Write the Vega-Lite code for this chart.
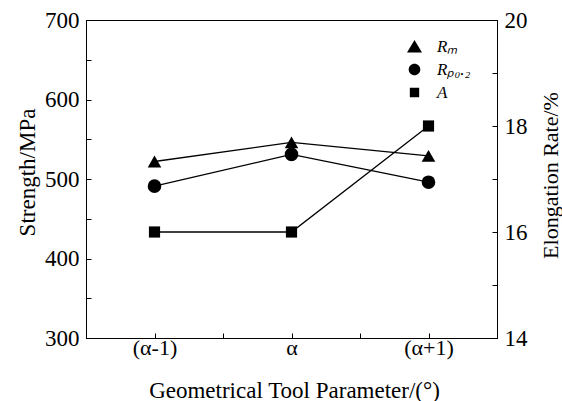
{
  "$schema": "https://vega.github.io/schema/vega-lite/v6.json",
  "width": 411,
  "height": 318,
  "autosize": "none",
  "padding": {"left": 86, "top": 20, "right": 65, "bottom": 63},
  "background": "white",
  "config": {
    "font": "Liberation Serif",
    "view": {"stroke": "black", "strokeWidth": 1},
    "axis": {
      "domainColor": "black",
      "tickColor": "black",
      "labelColor": "black",
      "titleColor": "black",
      "grid": false,
      "labelFont": "Liberation Serif",
      "titleFont": "Liberation Serif",
      "titleFontWeight": "normal",
      "labelFontSize": 23,
      "titleFontSize": 23,
      "tickSize": -5,
      "labelPadding": 12
    }
  },
  "data": {
    "values": [
      {"offset": -1, "series": "Rm", "value": 522},
      {"offset": 0, "series": "Rm", "value": 546},
      {"offset": 1, "series": "Rm", "value": 529},
      {"offset": -1, "series": "Rp0.2", "value": 491},
      {"offset": 0, "series": "Rp0.2", "value": 531},
      {"offset": 1, "series": "Rp0.2", "value": 496},
      {"offset": -1, "series": "A", "value": 16},
      {"offset": 0, "series": "A", "value": 16},
      {"offset": 1, "series": "A", "value": 18}
    ]
  },
  "encoding": {
    "x": {
      "field": "offset",
      "type": "quantitative",
      "scale": {"domain": [-1.5, 1.5], "nice": false, "zero": false},
      "axis": {
        "title": "Geometrical Tool Parameter/(°)",
        "values": [-1, -0.5, 0, 0.5, 1],
        "labelExpr": "datum.value == -1 ? '(α-1)' : datum.value == 0 ? 'α' : datum.value == 1 ? '(α+1)' : ''",
        "labelFontSize": 22,
        "labelPadding": 4,
        "titleFontSize": 23,
        "titleX": 208,
        "titleY": 59,
        "titleBaseline": "alphabetic"
      }
    }
  },
  "layer": [
    {
      "transform": [{"filter": "datum.series != 'A'"}],
      "encoding": {
        "y": {
          "field": "value",
          "type": "quantitative",
          "scale": {"domain": [300, 700], "nice": false, "zero": false},
          "axis": {
            "orient": "left",
            "title": "Strength/MPa",
            "values": [300, 350, 400, 450, 500, 550, 600, 650, 700],
            "labelExpr": "datum.value % 100 == 0 ? datum.label : ''",
            "titleAngle": 270,
            "titleX": -52,
            "titleY": 152,
            "titleAlign": "center",
            "titleBaseline": "alphabetic"
          }
        }
      },
      "layer": [
        {"mark": {"type": "line", "color": "black", "strokeWidth": 1.3}, "encoding": {"detail": {"field": "series"}}},
        {
          "mark": {"type": "point", "filled": true, "color": "black", "opacity": 1, "size": 185},
          "encoding": {
            "shape": {
              "field": "series",
              "type": "nominal",
              "scale": {"domain": ["Rm", "Rp0.2"], "range": ["triangle-up", "circle"]},
              "legend": null
            }
          }
        }
      ]
    },
    {
      "transform": [{"filter": "datum.series == 'A'"}],
      "encoding": {
        "y": {
          "field": "value",
          "type": "quantitative",
          "scale": {"domain": [14, 20], "nice": false, "zero": false},
          "axis": {
            "orient": "right",
            "title": "Elongation Rate/%",
            "values": [14, 15, 16, 17, 18, 19, 20],
            "labelExpr": "datum.value % 2 == 0 ? datum.label : ''",
            "titleAngle": 270,
            "titleX": 60,
            "titleY": 155,
            "titleFontSize": 22,
            "titleAlign": "center",
            "titleBaseline": "alphabetic"
          }
        }
      },
      "layer": [
        {"mark": {"type": "line", "color": "black", "strokeWidth": 1.3}, "encoding": {"detail": {"field": "series"}}},
        {"mark": {"type": "point", "filled": true, "color": "black", "opacity": 1, "shape": "square", "size": 125}}
      ]
    },
    {
      "transform": [{"filter": "datum.series == 'none'"}],
      "mark": {"type": "point", "filled": false, "fill": "black", "stroke": "black", "fillOpacity": 1, "strokeWidth": 1.2, "opacity": 1, "size": 144},
      "encoding": {
        "shape": {
          "field": "series",
          "type": "nominal",
          "scale": {
            "domain": ["Rm", "Rp0.2", "A"],
            "range": [
              "M-2.75,0H2.75M0,-1.08L1.25,1L-1.25,1Z",
              "M-2.75,0H2.75M-0.97,0A0.97,0.97,0,1,1,0.97,0A0.97,0.97,0,1,1,-0.97,0Z",
              "M-2.75,0H2.75M-0.78,-0.78H0.78V0.78H-0.78Z"
            ]
          },
          "legend": {
            "orient": "none",
            "legendX": 320,
            "legendY": 18,
            "title": null,
            "symbolSize": 144,
            "symbolFillColor": "black",
            "symbolStrokeColor": "black",
            "symbolStrokeWidth": 1.2,
            "symbolOpacity": 1,
            "rowPadding": 5,
            "labelOffset": 14,
            "labelFont": "Liberation Serif",
            "labelFontSize": 17,
            "labelFontStyle": "italic",
            "labelColor": "black",
            "labelExpr": "datum.value == 'Rm' ? 'Rₘ' : datum.value == 'Rp0.2' ? 'Rₚ₀.₂' : 'A'"
          }
        }
      }
    }
  ],
  "resolve": {"scale": {"y": "independent", "shape": "independent"}}
}
